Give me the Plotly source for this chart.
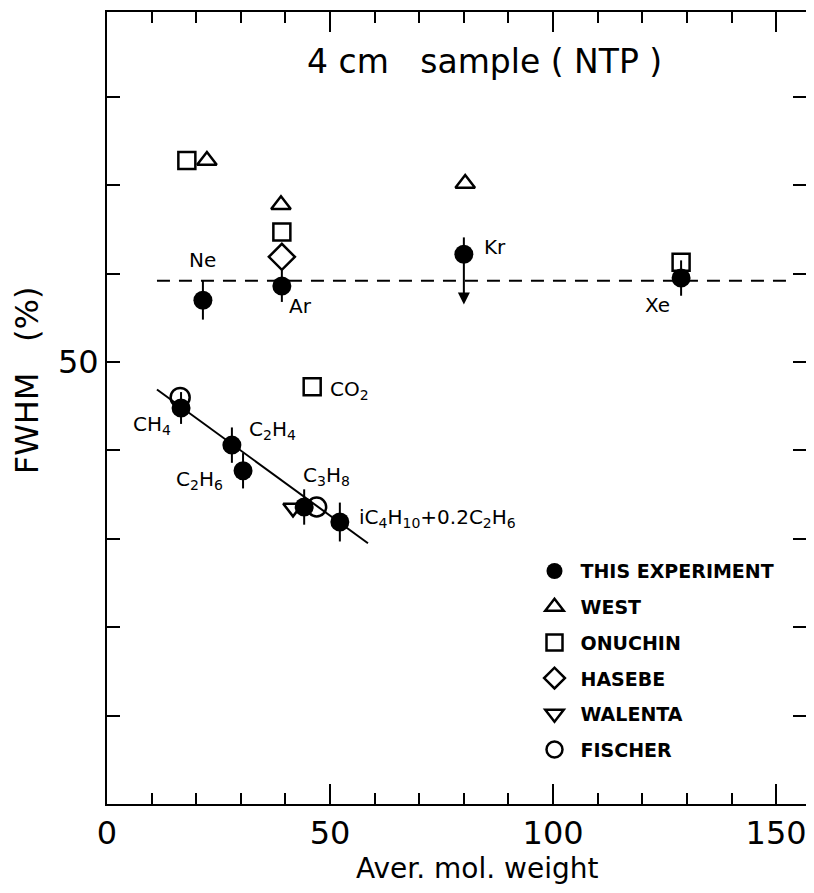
import plotly.graph_objects as go

# ---- data ----
this_x = [21.5, 39.2, 80.0, 128.7, 16.6, 28.0, 30.5, 44.2, 52.2]
this_y = [57.0, 58.6, 62.2, 59.5, 44.8, 40.6, 37.7, 33.6, 31.9]
this_eplus = [2.2, 1.8, 1.9, 2.0, 1.8, 2.0, 2.0, 2.0, 2.2]
this_eminus = [2.2, 1.8, 0.0, 2.0, 1.8, 2.0, 2.0, 2.0, 2.2]

west_x = [22.4, 39.0, 80.3]
west_y = [72.8, 67.8, 70.2]

onuchin_x = [17.9, 39.2, 46.0, 128.7]
onuchin_y = [72.8, 64.7, 47.2, 61.3]

hasebe_x = [39.2]
hasebe_y = [61.9]

walenta_x = [41.7]
walenta_y = [33.5]

fischer_x = [16.4, 47.0]
fischer_y = [46.0, 33.6]

dashed_x = [11.2, 152.7]
dashed_y = [59.2, 59.2]

fit_x = [11.2, 58.5]
fit_y = [46.9, 29.5]

kr_arrow_from = (80.0, 62.2)
kr_arrow_to = (80.0, 56.5)

labels = [
    ("Ne", 21.3, 61.6, "center"),
    ("Ar", 43.3, 56.3, "center"),
    ("Kr", 87.0, 63.0, "center"),
    ("Xe", 123.3, 56.5, "center"),
    ("CO<sub>2</sub>", 49.6, 46.8, "left"),
    ("CH<sub>4</sub>", 10.1, 42.9, "center"),
    ("C<sub>2</sub>H<sub>4</sub>", 37.0, 42.3, "center"),
    ("C<sub>2</sub>H<sub>6</sub>", 20.8, 36.6, "center"),
    ("C<sub>3</sub>H<sub>8</sub>", 49.3, 37.1, "center"),
    ("iC<sub>4</sub>H<sub>10</sub>+0.2C<sub>2</sub>H<sub>6</sub>", 56.0, 32.4, "left"),
]

x_range = [0, 156.7]
y_range = [0, 89.6]
x_ticks = [0, 50, 100, 150]
y_tickvals = [10, 20, 30, 40, 50, 60, 70, 80]
y_ticktext = ["", "", "", "", "50", "", "", ""]

FONT = "DejaVu Sans"
BLACK = "black"

fig = go.Figure()

# reference lines
fig.add_trace(go.Scatter(x=dashed_x, y=dashed_y, mode="lines",
                         line=dict(color=BLACK, width=2, dash="13px,9px"),
                         showlegend=False, hoverinfo="skip"))
fig.add_trace(go.Scatter(x=fit_x, y=fit_y, mode="lines",
                         line=dict(color=BLACK, width=2),
                         showlegend=False, hoverinfo="skip"))


def add_open(name, xs, ys, symbol, size, rank):
    fig.add_trace(go.Scatter(
        x=xs, y=ys, mode="markers", name=name,
        legendgroup=name, legendrank=rank,
        marker=dict(symbol=symbol, size=size, color=BLACK,
                    line=dict(color=BLACK, width=2.5))))


add_open("WEST", west_x, west_y, "triangle-up-open", 17, 2)
add_open("ONUCHIN", onuchin_x, onuchin_y, "square-open", 17, 3)
add_open("HASEBE", hasebe_x, hasebe_y, "diamond-open", 20, 4)
add_open("WALENTA", walenta_x, walenta_y, "triangle-down-open", 17, 5)
add_open("FISCHER", fischer_x, fischer_y, "circle-open", 19, 6)

fig.add_trace(go.Scatter(
    x=this_x, y=this_y, mode="markers", name="THIS EXPERIMENT",
    legendgroup="THIS", legendrank=1,
    marker=dict(symbol="circle", size=19, color=BLACK),
    error_y=dict(type="data", symmetric=False, array=this_eplus,
                 arrayminus=this_eminus, color=BLACK, thickness=2, width=0)))

# Kr upper-limit arrow
fig.add_annotation(x=kr_arrow_to[0], y=kr_arrow_to[1], ax=kr_arrow_from[0],
                   ay=kr_arrow_from[1], xref="x", yref="y", axref="x", ayref="y",
                   text="", showarrow=True, arrowhead=2, arrowsize=1.2,
                   arrowwidth=2, arrowcolor=BLACK)

for txt, lx, ly, anchor in labels:
    fig.add_annotation(x=lx, y=ly, xref="x", yref="y", text=txt,
                       showarrow=False, xanchor=anchor, yanchor="middle",
                       font=dict(family=FONT, size=20, color=BLACK))

# panel title
fig.add_annotation(x=0.54, y=0.9375, xref="paper", yref="paper",
                   text="4 cm   sample ( NTP )", showarrow=False,
                   xanchor="center", yanchor="middle",
                   font=dict(family=FONT, size=33, color=BLACK))

# axis titles as annotations for precise placement
fig.add_annotation(x=0.53, y=-0.082, xref="paper", yref="paper",
                   text="Aver. mol. weight", showarrow=False,
                   xanchor="center", yanchor="middle",
                   font=dict(family=FONT, size=28, color=BLACK))
fig.add_annotation(x=-0.1145, y=0.535, xref="paper", yref="paper",
                   text="FWHM   (%)", showarrow=False, textangle=-90,
                   xanchor="center", yanchor="middle",
                   font=dict(family=FONT, size=32, color=BLACK))

axis_common = dict(showgrid=False, zeroline=False, showline=True,
                   linecolor=BLACK, linewidth=2, mirror="ticks",
                   ticks="inside", tickcolor=BLACK, tickwidth=2,
                   automargin=False, ticklabeloverflow="allow",
                   tickfont=dict(family=FONT, size=32, color=BLACK))

fig.update_xaxes(range=x_range, tickvals=x_ticks, ticklen=20,
                 minor=dict(dtick=10, ticklen=11, ticks="inside",
                            tickcolor=BLACK, tickwidth=2),
                 **axis_common)
fig.update_yaxes(range=y_range, tickvals=y_tickvals, ticktext=y_ticktext,
                 ticklen=13, **axis_common)

# the page body adds an 8px margin, so the figure is sized to fit the window
fig.update_layout(
    width=798, height=877,
    margin=dict(l=99, r=0, t=4, b=81, autoexpand=False),
    paper_bgcolor="white", plot_bgcolor="white",
    showlegend=True,
    legend=dict(x=0.603, y=0.318, xanchor="left", yanchor="top",
                bgcolor="rgba(0,0,0,0)", tracegroupgap=8,
                traceorder="grouped", itemwidth=42,
                font=dict(family=FONT, size=19, color=BLACK, weight="bold")),
)

fig.write_html("out.html")
